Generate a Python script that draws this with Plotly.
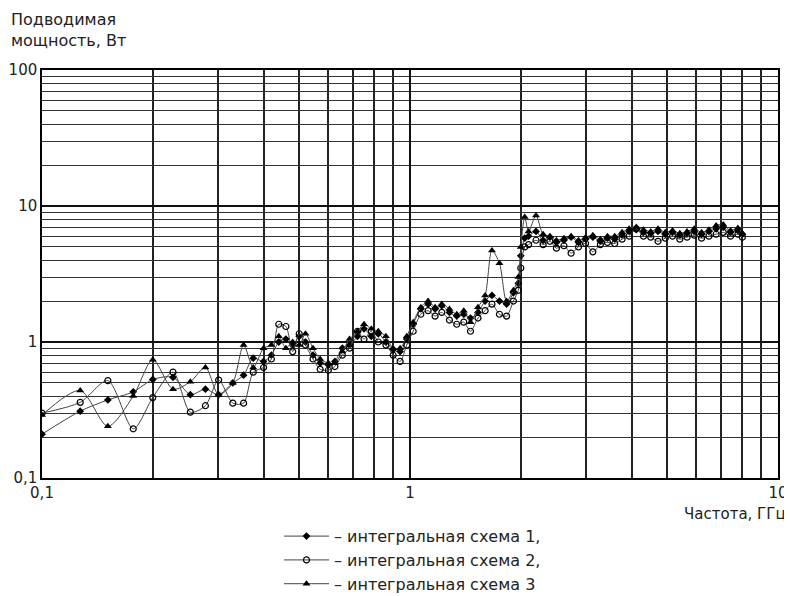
import plotly.graph_objects as go

freq = [0.1, 0.127, 0.151, 0.177, 0.2, 0.227, 0.253, 0.278, 0.302, 0.33, 0.353, 0.375, 0.4,
        0.42, 0.44, 0.46, 0.48, 0.5, 0.52, 0.545, 0.57, 0.6, 0.625,
        0.655, 0.685, 0.72, 0.75, 0.785, 0.82, 0.86, 0.9, 0.94, 0.98,
        1.02, 1.07, 1.12, 1.17, 1.22, 1.28, 1.34, 1.4, 1.46, 1.53,
        1.6, 1.67, 1.75, 1.83, 1.91, 1.97, 2.0, 2.05, 2.1, 2.2,
        2.3, 2.4, 2.5, 2.62, 2.74, 2.87, 3.0, 3.14, 3.29, 3.44,
        3.6, 3.77, 3.94, 4.12, 4.31, 4.51, 4.72, 4.94, 5.17, 5.41,
        5.66, 5.92, 6.2, 6.49, 6.79, 7.1, 7.43, 7.78, 8.0]

scheme1 = [0.21, 0.31, 0.375, 0.43, 0.53, 0.55, 0.41, 0.45, 0.41, 0.5, 0.57, 0.76, 0.72,
           0.8, 1.0, 1.05, 0.95, 1.1, 1.0, 0.8, 0.7, 0.68, 0.72,
           0.9, 0.95, 1.1, 1.25, 1.1, 1.15, 1.0, 0.88, 0.85, 1.05,
           1.35, 1.75, 1.9, 1.75, 1.85, 1.65, 1.55, 1.6, 1.5, 1.65,
           2.0, 2.2, 2.0, 1.9, 2.3, 2.7, 4.3, 5.8, 6.0, 6.5,
           5.6, 5.9, 5.4, 5.6, 5.9, 5.4, 5.7, 5.9, 5.5, 5.8,
           5.7, 6.1, 6.5, 6.7, 6.4, 6.3, 6.5, 6.2, 6.4, 6.1,
           6.3, 6.5, 6.2, 6.5, 6.8, 7.0, 6.4, 6.6, 6.2]

scheme2 = [0.3, 0.36, 0.52, 0.23, 0.39, 0.6, 0.305, 0.34, 0.525, 0.355, 0.355, 0.6, 0.65,
           0.75, 1.35, 1.3, 0.85, 1.15, 0.95, 0.75, 0.63, 0.62, 0.66,
           0.8, 0.9, 1.2, 1.05, 1.2, 1.0, 0.95, 0.8, 0.72, 0.95,
           1.2, 1.6, 1.7, 1.55, 1.65, 1.45, 1.35, 1.4, 1.2, 1.5,
           1.7, 1.9, 1.6, 1.55, 2.0, 2.4, 3.5, 5.0, 5.2, 5.6,
           5.2, 5.5, 4.9, 5.1, 4.5, 5.0, 5.3, 4.6, 5.2, 5.4,
           5.3, 5.7, 6.0, 6.8, 6.0, 5.9, 5.5, 5.8, 6.0, 5.7,
           5.9, 6.1, 5.8, 6.0, 6.2, 6.4, 6.0, 6.2, 5.9]

scheme3 = [0.29, 0.44, 0.24, 0.4, 0.74, 0.45, 0.51, 0.65, 0.41, 0.5, 0.95, 0.65, 0.9,
           0.95, 1.1, 0.9, 1.0, 0.95, 1.15, 0.9, 0.75, 0.7, 0.7,
           0.85, 1.05, 1.2, 1.35, 1.25, 1.2, 1.1, 0.9, 0.9, 1.1,
           1.4, 1.8, 2.0, 1.8, 1.9, 1.75, 1.6, 1.7, 1.4, 1.8,
           2.2, 4.7, 3.8, 2.0, 2.4, 3.0, 5.0, 8.3, 6.5, 8.5,
           6.2, 6.0, 5.6, 5.8, 6.0, 5.6, 5.9, 6.1, 5.7, 6.0,
           6.0, 6.4, 6.8, 7.0, 6.7, 6.5, 6.8, 6.4, 6.6, 6.3,
           6.5, 6.8, 6.4, 6.7, 7.2, 7.3, 6.6, 6.9, 6.3]

names = ["– интегральная схема 1,", "– интегральная схема 2,", "– интегральная схема 3"]
ytickvals = [0.1, 1, 10, 100]
yticktext = ["0,1", "1", "10", "100"]
xtickvals = [0.1, 1, 10]
xticktext = ["0,1", "1", "10"]

FONT = "DejaVu Sans, Liberation Sans, Arial, sans-serif"
TXT = "#222222"
line_style = dict(color="#444444", width=1, shape="spline", smoothing=0.8)

fig = go.Figure()
fig.add_trace(go.Scatter(x=freq, y=scheme1, mode="lines+markers", name=names[0],
                         line=line_style,
                         marker=dict(symbol="diamond", size=6, color="black")))
fig.add_trace(go.Scatter(x=freq, y=scheme2, mode="lines+markers", name=names[1],
                         line=line_style,
                         marker=dict(symbol="circle-open", size=6, color="black",
                                     line=dict(width=1.2, color="black"))))
fig.add_trace(go.Scatter(x=freq, y=scheme3, mode="lines+markers", name=names[2],
                         line=line_style,
                         marker=dict(symbol="triangle-up", size=7, color="black")))

fig.update_xaxes(type="log", range=[-1, 1], tickvals=xtickvals, ticktext=xticktext,
                 ticks="", showline=True, mirror=True, linecolor="black", linewidth=1.5,
                 gridcolor="#111111", gridwidth=2, showgrid=True,
                 minor=dict(dtick="D1", showgrid=True, gridcolor="#222222", gridwidth=1.5),
                 tickfont=dict(size=15, color=TXT), zeroline=False)
fig.update_yaxes(type="log", range=[-1, 2], tickvals=ytickvals, ticktext=yticktext,
                 ticks="", showline=True, mirror=True, linecolor="black", linewidth=1.5,
                 gridcolor="#111111", gridwidth=1.5, showgrid=True,
                 minor=dict(dtick="D1", showgrid=True, gridcolor="#333333", gridwidth=1.2),
                 tickfont=dict(size=15, color=TXT), zeroline=False)

fig.update_layout(
    width=784, height=588,
    margin=dict(l=34, r=14, t=62, b=118, autoexpand=False),
    paper_bgcolor="white", plot_bgcolor="white",
    font=dict(family=FONT, size=15, color=TXT),
    showlegend=True,
    legend=dict(x=0.322, y=-0.101, xanchor="left", yanchor="top",
                font=dict(size=16, color=TXT), tracegroupgap=0,
                itemwidth=45, bgcolor="rgba(0,0,0,0)"),
    annotations=[
        dict(text="Подводимая<br>мощность, Вт", xref="paper", yref="paper",
             x=-0.045, y=1.152, xanchor="left", yanchor="top", showarrow=False,
             align="left", font=dict(size=16, color=TXT)),
        dict(text="Частота, ГГц", xref="paper", yref="paper",
             x=1.014, y=-0.062, xanchor="right", yanchor="top", showarrow=False,
             font=dict(size=15, color=TXT)),
    ],
)

fig.write_html("out.html")
